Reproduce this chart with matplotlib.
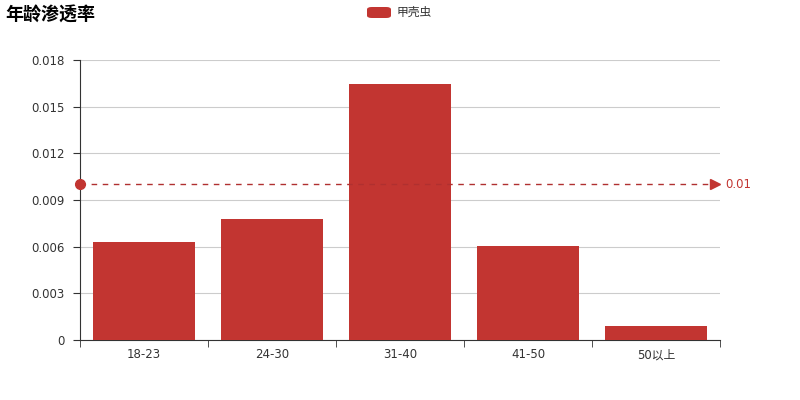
import matplotlib
matplotlib.use("Agg")
import matplotlib.pyplot as plt
from matplotlib.patches import FancyBboxPatch

plt.rcParams['font.family'] = ['DejaVu Sans', 'Noto Sans CJK SC']

# data
categories = ["18-23", "24-30", "31-40", "41-50", "50以上"]
values = [0.0063, 0.00776, 0.01645, 0.00602, 0.00088]
series_name = "甲壳虫"
mark_value = 0.01
yticks = [0, 0.003, 0.006, 0.009, 0.012, 0.015, 0.018]
ytick_labels = ["0", "0.003", "0.006", "0.009", "0.012", "0.015", "0.018"]

red = "#c23531"
axis_col = "#333333"

fig = plt.figure(figsize=(8, 4), dpi=100)
ax = fig.add_axes([0.1, 0.15, 0.8, 0.7])

x = range(len(categories))
ax.bar(x, values, width=0.8, color=red, zorder=3)

ax.set_xlim(-0.5, len(categories) - 0.5)
ax.set_ylim(0, 0.018)
ax.set_yticks(yticks)
ax.set_yticklabels(ytick_labels)
ax.set_xticks(list(x))
ax.set_xticklabels(categories)
ax.grid(axis='y', color="#cccccc", linewidth=0.8, zorder=0)

# category boundary ticks
ax.set_xticks([i - 0.5 for i in range(len(categories) + 1)], minor=True)
ax.tick_params(axis='x', which='major', length=0, pad=6, labelsize=8.5, labelcolor=axis_col)
ax.tick_params(axis='x', which='minor', length=5, color=axis_col, direction='out')
ax.tick_params(axis='y', length=5, color=axis_col, labelsize=8.5, labelcolor=axis_col, pad=6)

for s in ['top', 'right']:
    ax.spines[s].set_visible(False)
ax.spines['left'].set_color(axis_col)
ax.spines['bottom'].set_color(axis_col)

# mark line
xl = -0.5
xr = len(categories) - 0.5
ax.plot([xl, xr - 0.04], [mark_value, mark_value], color="#b03030", linestyle=(0, (4, 4)),
        linewidth=1, zorder=4, clip_on=False)
ax.plot([xl], [mark_value], marker='o', color=red, markersize=7, zorder=5, clip_on=False)
ax.plot([xr - 0.04], [mark_value], marker='>', color=red, markersize=7, zorder=5, clip_on=False)
ax.text(xr + 0.04, mark_value, "0.01", color=red, fontsize=8.5, va='center', ha='left')

# title
fig.text(0.006, 0.962, "年龄渗透率", fontsize=13, fontweight='bold', color='#000000',
         family=['Noto Sans CJK SC'], va='center', ha='left')

# legend
leg = FancyBboxPatch((367 / 800, 1 - 18 / 400), 24 / 800, 11 / 400,
                     boxstyle="round,pad=0,rounding_size=0.006",
                     transform=fig.transFigure, facecolor=red, edgecolor='none')
fig.patches.append(leg)
fig.text(397 / 800, 1 - 12.5 / 400, series_name, fontsize=8.5, color=axis_col,
         family=['Noto Sans CJK SC'], va='center', ha='left')

fig.savefig("out.png", dpi=100)
